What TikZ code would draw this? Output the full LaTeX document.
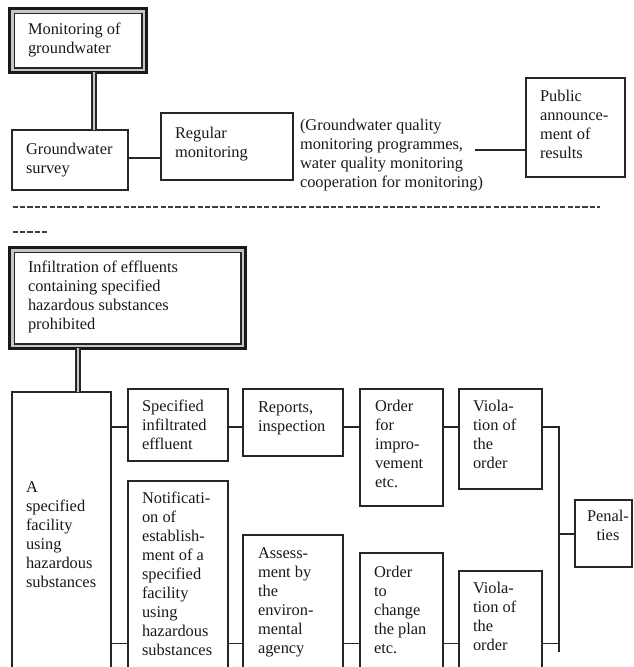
\documentclass[tikz,border=0pt]{standalone}
\usepackage{fontspec}
\setmainfont{Liberation Serif}
\newcommand\mytx[4]{\node[txt] (#1) at (#2,#3-13.3) {\strut #4};}
\begin{document}
\begin{tikzpicture}[x=1pt,y=-1pt,
 box/.style={draw=black!85,line width=1.1pt,inner sep=0pt,outer sep=0pt,anchor=north west},
 dbox/.style={draw=black!90,line width=3.4pt,inner sep=0pt,outer sep=0pt,anchor=north west},
 txt/.style={inner sep=0pt,outer sep=0pt,anchor=north west,align=left,font=\fontsize{16.4}{19}\selectfont,text=black!90},
 ctxt/.style={txt,anchor=north,align=center},
 conn/.style={draw=black!85,line width=1.1pt},
 dconn/.style={draw=black!85,line width=2pt,double=gray!45,double distance=1.7pt},
 sepline/.style={draw=black!75,line width=1.3pt,dash pattern=on 5.2pt off 2.2pt},
 gapline/.style={draw=gray!45,line width=2.1pt},
 innerline/.style={draw=black!85,line width=1.4pt}
]
\useasboundingbox (0,0) rectangle (633,667);
\clip (0,0) rectangle (633,667);

% upper part
\node[dbox,minimum width=136.6pt,minimum height=63.6pt] (mon) at (9.7,8.7) {};
\draw[gapline] ([shift={(2.75,2.75)}]mon.north west) rectangle ([shift={(-2.75,-2.75)}]mon.south east);
\draw[innerline] ([shift={(4.5,4.5)}]mon.north west) rectangle ([shift={(-4.5,-4.5)}]mon.south east);
\node[box,minimum width=116pt,minimum height=60pt] (gs) at (12,130) {};
\node[box,minimum width=132pt,minimum height=67pt] (rm) at (161,113) {};
\node[box,minimum width=99pt,minimum height=99pt] (pub) at (526,78) {};

\mytx{mon-t}{28}{34.5}{Monitoring of\\groundwater}
\mytx{gs-t}{26}{154}{Groundwater\\survey}
\mytx{rm-t}{175}{138}{Regular\\monitoring}
\mytx{gqm}{300}{130.5}{(Groundwater quality\\monitoring programmes,\\water quality monitoring\\cooperation for monitoring)}
\mytx{pub-t}{540}{101.5}{Public\\announce-\\ment of\\results}

\draw[dconn] (93.9,0 |- mon.south) -- (93.9,0 |- gs.north);
\draw[conn] (gs.east |- 0,158) -- (rm.west |- 0,158);
\coordinate (gqmend) at (475,150);
\draw[conn] (gqmend) -- (pub.west |- gqmend);

% separator
\draw[sepline] (12.5,207) -- (600,207);
\draw[sepline] (12.5,232) -- (48,232);

% lower part
\node[dbox,minimum width=235.6pt,minimum height=100.6pt] (inf) at (9.7,247.7) {};
\draw[gapline] ([shift={(2.75,2.75)}]inf.north west) rectangle ([shift={(-2.75,-2.75)}]inf.south east);
\draw[innerline] ([shift={(4.5,4.5)}]inf.north west) rectangle ([shift={(-4.5,-4.5)}]inf.south east);
\node[box,minimum width=99pt,minimum height=310pt] (A) at (12,392) {};
\node[box,minimum width=100pt,minimum height=72pt] (sie) at (128,389) {};
\node[box,minimum width=100pt,minimum height=67pt] (rep) at (243,389) {};
\node[box,minimum width=83pt,minimum height=117pt] (ofi) at (360,389) {};
\node[box,minimum width=83pt,minimum height=100pt] (vio1) at (459,389) {};
\node[box,minimum width=57pt,minimum height=67pt] (pen) at (575,500) {};
\node[box,minimum width=100pt,minimum height=230pt] (notif) at (128,481) {};
\node[box,minimum width=100pt,minimum height=170pt] (ass) at (243,535) {};
\node[box,minimum width=83pt,minimum height=150pt] (otc) at (360,553) {};
\node[box,minimum width=83pt,minimum height=140pt] (vio2) at (459,571) {};

\mytx{inf-t}{28}{272.5}{Infiltration of effluents\\containing specified\\hazardous substances\\prohibited}
\mytx{sie-t}{142}{411.5}{Specified\\infiltrated\\effluent}
\mytx{rep-t}{258}{412}{Reports,\\inspection}
\mytx{ofi-t}{375}{411.5}{Order\\for\\impro-\\vement\\etc.}
\mytx{vio1-t}{473}{411.5}{Viola-\\tion of\\the\\order}
\node[ctxt] (pen-t) at (608,521.5-13.3) {\strut Penal-\\ties};
\mytx{A-t}{26}{492.5}{A\\specified\\facility\\using\\hazardous\\substances}
\mytx{notif-t}{142}{503.5}{Notificati-\\on of\\establish-\\ment of a\\specified\\facility\\using\\hazardous\\substances}
\mytx{ass-t}{258}{558}{Assess-\\ment by\\the\\environ-\\mental\\agency}
\mytx{otc-t}{374}{577.5}{Order\\to\\change\\the plan\\etc.}
\mytx{vio2-t}{473}{593}{Viola-\\tion of\\the\\order}

\draw[dconn] (78.3,0 |- inf.south) -- (78.3,0 |- A.north);
\draw[conn] (A.east |- 0,427) -- (sie.west |- 0,427);
\draw[conn] (sie.east |- 0,427) -- (rep.west |- 0,427);
\draw[conn] (rep.east |- 0,427) -- (ofi.west |- 0,427);
\draw[conn] (ofi.east |- 0,427) -- (vio1.west |- 0,427);
\coordinate (bart) at (559,427);
\coordinate (barb) at (559,652);
\draw[conn] (vio1.east |- bart) -- (bart) -- (barb);
\draw[conn] (bart |- 0,534) -- (pen.west |- 0,534);
\draw[conn] (A.east |- 0,643.5) -- (notif.west |- 0,643.5);
\draw[conn] (notif.east |- 0,643.5) -- (ass.west |- 0,643.5);
\draw[conn] (ass.east |- 0,643.5) -- (otc.west |- 0,643.5);
\draw[conn] (otc.east |- 0,643.5) -- (vio2.west |- 0,643.5);
\draw[conn] (vio2.east |- 0,643.5) -- (barb |- 0,643.5);
\end{tikzpicture}
\end{document}
